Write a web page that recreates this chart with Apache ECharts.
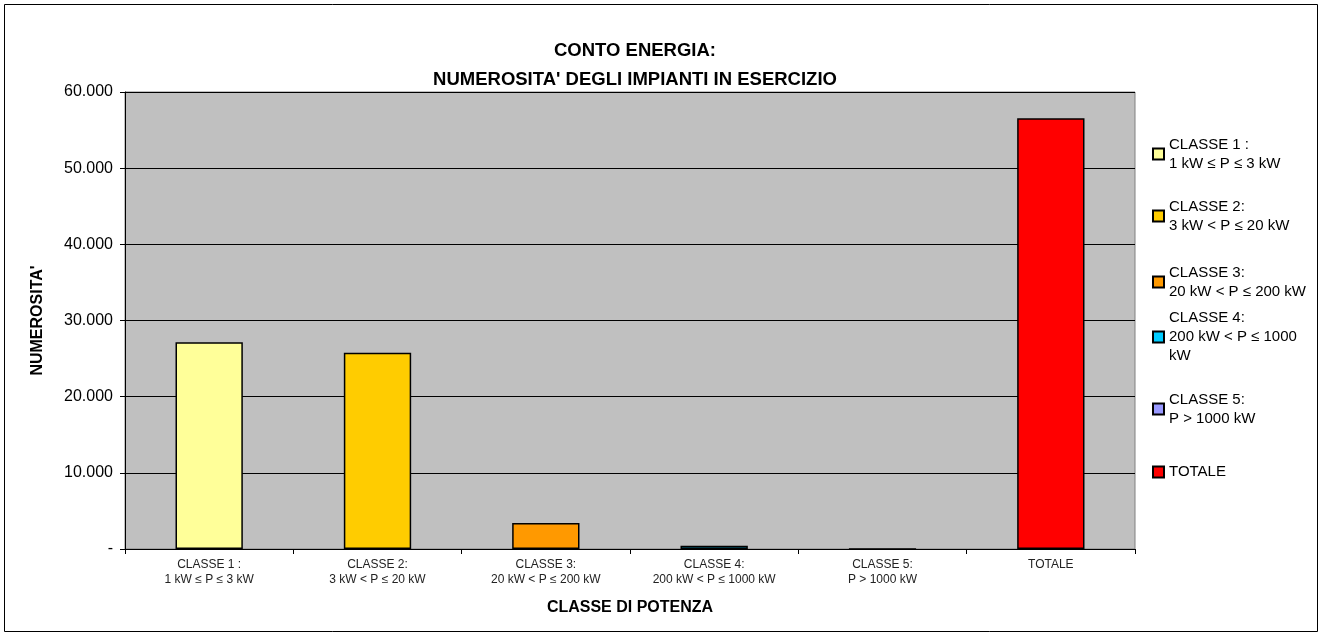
<!DOCTYPE html>
<html><head><meta charset="utf-8">
<script src="https://cdn.jsdelivr.net/npm/echarts@6/dist/echarts.min.js"></script>
<style>html,body{margin:0;padding:0;background:#fff}#c{width:1323px;height:636px}</style>
</head><body><div id="c"></div>
<script>
const categories = ['CLASSE 1 :\n1 kW ≤ P ≤ 3 kW','CLASSE 2:\n3 kW < P ≤ 20 kW','CLASSE 3:\n20 kW < P ≤ 200 kW','CLASSE 4:\n200 kW < P ≤ 1000 kW','CLASSE 5:\nP > 1000 kW','TOTALE'];
const seriesNames = ['CLASSE 1 :\n1 kW ≤ P ≤ 3 kW','CLASSE 2:\n3 kW < P ≤ 20 kW','CLASSE 3:\n20 kW < P ≤ 200 kW','CLASSE 4:\n200 kW < P ≤ 1000\nkW','CLASSE 5:\nP > 1000 kW','TOTALE'];
const values = [27150, 25750, 3420, 420, 25, 56570];
const colors = ['#FFFF99','#FFCC00','#FF9900','#00CCFF','#9999FF','#FF0000'];
const yTicks = [0, 10000, 20000, 30000, 40000, 50000, 60000];

const chart = echarts.init(document.getElementById('c'), null, {renderer:'canvas'});
const FONT = '"Liberation Sans", Arial, sans-serif';
const lh = 19;
const legendCenters = [154, 216, 282, 337, 409, 472];

const series = seriesNames.map((n, i) => ({
  name: n, type: 'bar', stack: 'all', barWidth: '40%',
  data: categories.map((c, j) => j === i ? values[i] : null),
  itemStyle: {color: colors[i], borderColor: '#000', borderWidth: 1.5},
  emphasis: {disabled: true}
}));

const legends = seriesNames.map((n, i) => {
  const lines = n.split('\n').length;
  return {
    data: [n], left: 1152, top: legendCenters[i] - (2*lines-1)*lh/2, padding: 0,
    itemWidth: 11, itemHeight: 11, selectedMode: false, icon: 'rect',
    textStyle: {fontFamily: FONT, fontSize: 15, color: '#000', lineHeight: lh, padding: [(lines-1)*lh, 0, 0, 0]}
  };
});

chart.setOption({
  animation: false,
  backgroundColor: '#fff',
  textStyle: {fontFamily: FONT},
  title: {
    text: "CONTO ENERGIA:\nNUMEROSITA' DEGLI IMPIANTI IN ESERCIZIO",
    left: 630, top: 31, textAlign: 'center',
    textStyle: {fontFamily: FONT, fontSize: 18.5, fontWeight: 'bold', color: '#000', lineHeight: 29}
  },
  legend: legends,
  grid: {left: 125, right: 188, top: 92, bottom: 87, show: true, backgroundColor: '#C0C0C0', borderColor: '#808080', borderWidth: 1},
  xAxis: {
    type: 'category', data: categories,
    name: 'CLASSE DI POTENZA', nameLocation: 'middle', nameGap: 51,
    nameTextStyle: {fontFamily: FONT, fontSize: 16, fontWeight: 'bold', color: '#000'},
    axisLine: {lineStyle: {color: '#000', width: 1}},
    axisTick: {show: true, length: 5, lineStyle: {color: '#000'}},
    axisLabel: {fontFamily: FONT, fontSize: 12, color: '#222', lineHeight: 15, margin: 8, interval: 0}
  },
  yAxis: {
    type: 'value', min: yTicks[0], max: yTicks[yTicks.length-1], interval: 10000,
    name: "NUMEROSITA'", nameLocation: 'middle', nameGap: 79, nameRotate: 90,
    nameTextStyle: {fontFamily: FONT, fontSize: 16, fontWeight: 'bold', color: '#000'},
    axisLine: {show: true, lineStyle: {color: '#000', width: 1}},
    axisTick: {show: true, length: 5, lineStyle: {color: '#000'}},
    splitLine: {show: true, lineStyle: {color: '#000', width: 1}},
    axisLabel: {fontFamily: FONT, fontSize: 16, color: '#000', margin: 12,
      formatter: v => v === 0 ? '-' : v.toString().replace(/\B(?=(\d{3})+(?!\d))/g, '.')}
  },
  graphic: [{type: 'rect', shape: {x: 4.5, y: 4.5, width: 1313, height: 627}, style: {fill: 'none', stroke: '#000', lineWidth: 1}, silent: true}],
  series: series
});
</script></body></html>
